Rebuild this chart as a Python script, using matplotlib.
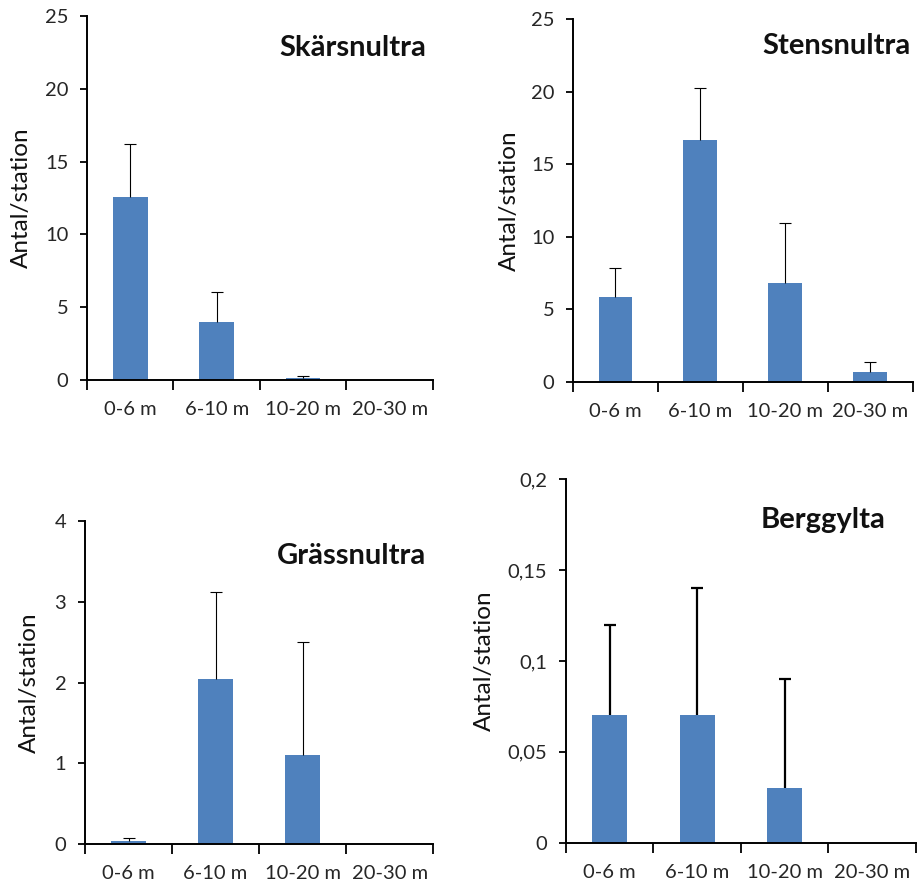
import numpy as np
import matplotlib.pyplot as plt
from matplotlib.ticker import FuncFormatter

plt.rcParams['font.family'] = ['Lato', 'DejaVu Sans']

# Djupintervall och medelvärden (+ standardfel) per art
djup = ["0-6 m", "6-10 m", "10-20 m", "20-30 m"]

skarsnultra = [12.6, 4.0, 0.15, 0.0]
skarsnultra_fel = [3.6, 2.05, 0.15, 0.0]

stensnultra = [5.83, 16.65, 6.8, 0.67]
stensnultra_fel = [2.0, 3.6, 4.15, 0.7]

grassnultra = [0.037, 2.04, 1.10, 0.0]
grassnultra_fel = [0.037, 1.08, 1.41, 0.0]

berggylta = [0.07, 0.07, 0.03, 0.0]
berggylta_fel = [0.05, 0.07, 0.06, 0.0]

paneler = [
    ("Skärsnultra", skarsnultra, skarsnultra_fel, 25, [0, 5, 10, 15, 20, 25],
     [0.0949, 0.5701, 0.3771, 0.4118], (0.98, 0.912), -0.159, 0.8),
    ("Stensnultra", stensnultra, stensnultra_fel, 25, [0, 5, 10, 15, 20, 25],
     [0.6249, 0.5679, 0.3704, 0.4103], (0.995, 0.925), -0.156, 0.8),
    ("Grässnultra", grassnultra, grassnultra_fel, 4, [0, 1, 2, 3, 4],
     [0.0927, 0.0452, 0.3798, 0.3651], (0.98, 0.893), -0.129, 0.8),
    ("Berggylta", berggylta, berggylta_fel, 0.2, [0, 0.05, 0.1, 0.15, 0.2],
     [0.6172, 0.0467, 0.3817, 0.4114], (0.914, 0.887), -0.203, 1.6),
]

fig = plt.figure(figsize=(9.17, 8.84), dpi=100)
x = np.arange(len(djup))

for titel, varden, fel, ymax, yticks, pos, tpos, lab_x, elw in paneler:
    ax = fig.add_axes(pos)
    ax.bar(x, varden, width=0.4, color="#4F81BD", linewidth=0, zorder=2)
    # bara övre felstapel, med tvärstreck endast upptill
    v = np.array(varden)
    f = np.array(fel)
    m = f > 0
    eb = ax.errorbar(x[m], v[m], yerr=[np.zeros(m.sum()), f[m]], fmt="none",
                     ecolor="black", elinewidth=elw, capsize=4, capthick=elw, zorder=3)
    eb[1][0].set_visible(False)
    ax.set_xlim(-0.5, 3.5)
    ax.set_ylim(0, ymax)
    ax.set_yticks(yticks)
    ax.yaxis.set_major_formatter(FuncFormatter(lambda t, p: f"{t:g}".replace(".", ",")))
    ax.set_xticks(x)
    ax.set_xticklabels(djup)
    ax.set_xticks(np.arange(-0.5, 4.0, 1.0), minor=True)
    ax.tick_params(axis="x", which="major", length=0, pad=15, labelsize=14.5,
                   labelcolor="#262626")
    ax.tick_params(axis="x", which="minor", length=7, width=1.3, direction="out")
    ax.tick_params(axis="y", length=5, width=1.3, labelsize=14.5, labelcolor="#262626",
                   pad=8.5)
    for s in ("top", "right"):
        ax.spines[s].set_visible(False)
    for s in ("left", "bottom"):
        ax.spines[s].set_linewidth(1.4)
    ax.set_ylabel("Antal/station", fontsize=17.5, color="#111111")
    ax.yaxis.set_label_coords(lab_x, 0.5)
    ax.text(tpos[0], tpos[1], titel, transform=ax.transAxes, ha="right", va="center",
            fontsize=21, fontweight="bold", color="#111111")

fig.savefig("out.png", dpi=100)
